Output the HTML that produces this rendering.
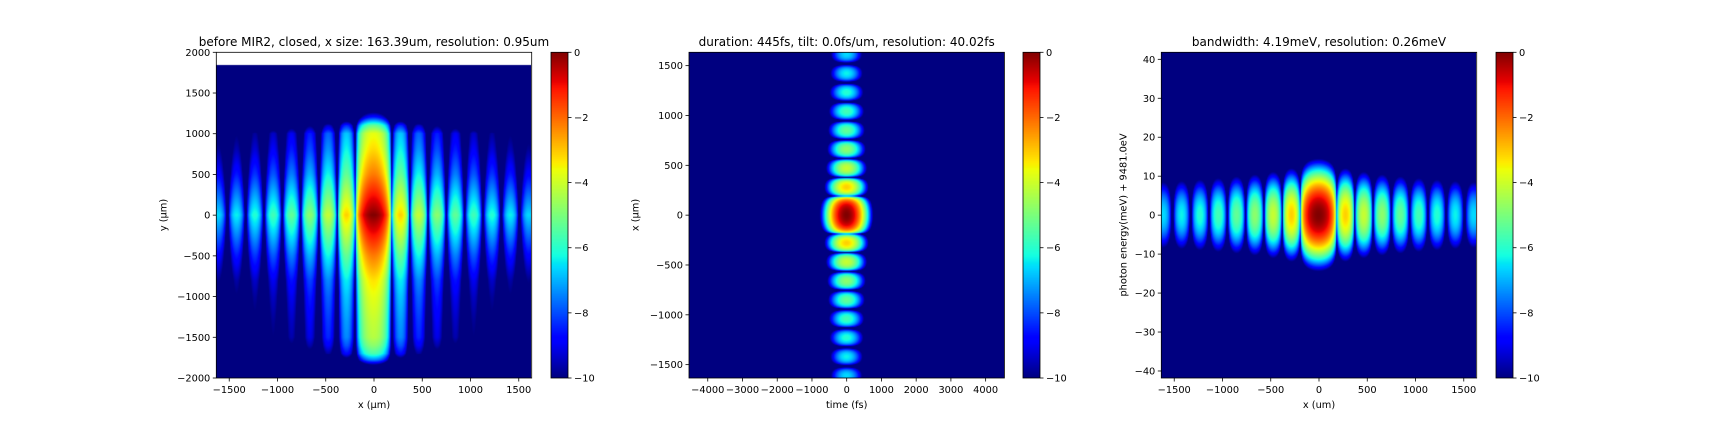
<!DOCTYPE html>
<html><head><meta charset="utf-8">
<style>
html,body{margin:0;padding:0;background:#fff;}
#root{position:relative;width:1728px;height:432px;overflow:hidden;background:#fff;}
canvas{position:absolute;display:block;}
svg{position:absolute;left:0;top:0;}
text{font-family:"DejaVu Sans","Liberation Sans",sans-serif;fill:#000;}
</style></head>
<body>
<div id="root">
<canvas id="c1"></canvas>
<canvas id="c2"></canvas>
<canvas id="c3"></canvas>
<canvas id="cb1"></canvas>
<canvas id="cb2"></canvas>
<canvas id="cb3"></canvas>
<svg id="ov" width="1728" height="432"></svg>
</div>
<script>
// ---- data (log intensity, natural log) ----
const lobeCenters = [0, 280, 470, 660, 850, 1040, 1230, 1420, 1610, -280, -470, -660, -850, -1040, -1230, -1420, -1610];
const lobePeaks   = [0, -3.1, -4.1, -4.8, -5.3, -5.7, -6.05, -6.35, -6.6, -3.1, -4.1, -4.8, -5.3, -5.7, -6.05, -6.35, -6.6];
const lobeWidths  = [380, 190, 190, 190, 190, 190, 190, 190, 190, 190, 190, 190, 190, 190, 190, 190, 190];
// panel 1 vertical profile (y um -> log value)
const p1ProfileY = [-2100, -1880, -1840, -1780, -1700, -1600, -1500, -1300, -1000, -800, -500, 0, 500, 800, 1000, 1100, 1200, 1260, 1300];
const p1ProfileV = [-30, -12, -10, -7.5, -5.6, -4.8, -4.3, -4.1, -3.7, -3.3, -2.2, 0, -2.2, -3.2, -3.7, -5.3, -8.5, -10, -14];
const p1ImageTop = 1844;
// panel 2 temporal gaussian curvature (per fs^2), panel 3 spectral curvature (per meV^2)
const p2TimeCurv = [1.69e-5];
const p3EnergyCurv = [0.048];
// axes ranges & ticks
const p1XRange = [-1634, 1634], p1YRange = [-2000, 2000];
const p2XRange = [-4540, 4540], p2YRange = [-1634, 1634];
const p3XRange = [-1634, 1634], p3YRange = [-41.8, 41.8];
const p1XTicks = [-1500, -1000, -500, 0, 500, 1000, 1500];
const p1YTicks = [-2000, -1500, -1000, -500, 0, 500, 1000, 1500, 2000];
const p2XTicks = [-4000, -3000, -2000, -1000, 0, 1000, 2000, 3000, 4000];
const p2YTicks = [-1500, -1000, -500, 0, 500, 1000, 1500];
const p3XTicks = [-1500, -1000, -500, 0, 500, 1000, 1500];
const p3YTicks = [-40, -30, -20, -10, 0, 10, 20, 30, 40];
const cbTicks = [0, -2, -4, -6, -8, -10];
const cbRange = [-10, 0];

// ---- helpers ----
function jet(v){
  let t=(v-cbRange[0])/(cbRange[1]-cbRange[0]); t=Math.max(0,Math.min(1,t));
  const seg=(k)=>{for(let i=0;i<k.length-1;i++){if(t<=k[i+1][0]){const a=k[i],b=k[i+1];return a[1]+(b[1]-a[1])*(t-a[0])/(b[0]-a[0]);}}return k[k.length-1][1];};
  const r=seg([[0,0],[0.35,0],[0.66,1],[0.89,1],[1,0.5]]);
  const g=seg([[0,0],[0.125,0],[0.375,1],[0.64,1],[0.91,0],[1,0]]);
  const b=seg([[0,0.5],[0.11,1],[0.34,1],[0.65,0],[1,0]]);
  return [r*255,g*255,b*255];
}
function interp(xs,vs,x){
  if(x<=xs[0])return vs[0]; if(x>=xs[xs.length-1])return vs[vs.length-1];
  for(let i=0;i<xs.length-1;i++){if(x<=xs[i+1]){return vs[i]+(vs[i+1]-vs[i])*(x-xs[i])/(xs[i+1]-xs[i]);}}
}
function lobeVal(x){
  let best=-1e9;
  for(let i=0;i<lobeCenters.length;i++){
    const d=x-lobeCenters[i], w=lobeWidths[i];
    if(Math.abs(d)<w/2){const c=Math.cos(Math.PI*d/w);const v=lobePeaks[i]+Math.log(c*c+1e-12);if(v>best)best=v;}
  }
  return best;
}
const AX={top:52.3,bottom:378,h:325.7,w:315.4};
const panels=[
 {left:216.3,cb:551,xr:p1XRange,yr:p1YRange,xt:p1XTicks,yt:p1YTicks,canvas:'c1',cbc:'cb1',
  title:'before MIR2, closed, x size: 163.39um, resolution: 0.95um',xl:'x (µm)',yl:'y (µm)',
  f:(x,y)=> y>p1ImageTop? null : lobeVal(x)+interp(p1ProfileY,p1ProfileV,y)},
 {left:689,cb:1023,xr:p2XRange,yr:p2YRange,xt:p2XTicks,yt:p2YTicks,canvas:'c2',cbc:'cb2',
  title:'duration: 445fs, tilt: 0.0fs/um, resolution: 40.02fs',xl:'time (fs)',yl:'x (µm)',
  f:(t,x)=> lobeVal(x)-p2TimeCurv[0]*t*t},
 {left:1161.3,cb:1496,xr:p3XRange,yr:p3YRange,xt:p3XTicks,yt:p3YTicks,canvas:'c3',cbc:'cb3',
  title:'bandwidth: 4.19meV, resolution: 0.26meV',xl:'x (um)',yl:'photon energy(meV) + 9481.0eV',
  f:(x,e)=> lobeVal(x)-p3EnergyCurv[0]*e*e}
];
const NS='http://www.w3.org/2000/svg';
const ov=document.getElementById('ov');
function mk(tag,attrs,parent){const e=document.createElementNS(NS,tag);for(const k in attrs)e.setAttribute(k,attrs[k]);(parent||ov).appendChild(e);return e;}

panels.forEach((p,pi)=>{
  const L=Math.round(p.left),T=Math.round(AX.top),W=Math.round(AX.w),H=Math.round(AX.h);
  const cv=document.getElementById(p.canvas);
  cv.width=W;cv.height=H;cv.style.left=L+'px';cv.style.top=T+'px';
  const ctx=cv.getContext('2d');const img=ctx.createImageData(W,H);
  const sx=v=>p.left+(v-p.xr[0])/(p.xr[1]-p.xr[0])*AX.w;
  const sy=v=>AX.top+(p.yr[1]-v)/(p.yr[1]-p.yr[0])*AX.h;
  for(let j=0;j<H;j++){
    const yv=p.yr[1]-(j+0.5)/H*(p.yr[1]-p.yr[0]);
    for(let i=0;i<W;i++){
      const xv=p.xr[0]+(i+0.5)/W*(p.xr[1]-p.xr[0]);
      const v=p.f(xv,yv);const k=(j*W+i)*4;
      if(v===null){img.data[k]=255;img.data[k+1]=255;img.data[k+2]=255;img.data[k+3]=255;continue;}
      const c=jet(v);img.data[k]=c[0];img.data[k+1]=c[1];img.data[k+2]=c[2];img.data[k+3]=255;
    }
  }
  ctx.putImageData(img,0,0);
  // colorbar
  const cb=document.getElementById(p.cbc);const CW=17;
  cb.width=CW;cb.height=H;cb.style.left=Math.round(p.cb)+'px';cb.style.top=T+'px';
  const cctx=cb.getContext('2d');
  for(let j=0;j<H;j++){const v=cbRange[1]-(j+0.5)/H*(cbRange[1]-cbRange[0]);const c=jet(v);cctx.fillStyle=`rgb(${c[0]|0},${c[1]|0},${c[2]|0})`;cctx.fillRect(0,j,CW,1);}
  const g=mk('g',{});
  
  
  const fr=mk('rect',{x:p.left,y:AX.top,width:AX.w,height:AX.h,fill:'none',stroke:'#000','stroke-width':0.8},g);
  
  
  const cf=mk('rect',{x:p.cb,y:AX.top,width:CW,height:AX.h,fill:'none',stroke:'#000','stroke-width':0.8},g);
  
  
  p.xt.forEach(v=>{const x=sx(v);
    mk('line',{x1:x,x2:x,y1:AX.bottom,y2:AX.bottom+3.5,stroke:'#000','stroke-width':0.8},g);
    const t=mk('text',{x:x,y:AX.bottom+15,'font-size':'9.8','text-anchor':'middle'},g);t.textContent=(v<0?'\u2212':'')+Math.abs(v);
    
    });
  p.yt.forEach(v=>{const y=sy(v);
    mk('line',{x1:p.left-3.5,x2:p.left,y1:y,y2:y,stroke:'#000','stroke-width':0.8},g);
    const t=mk('text',{x:p.left-6,y:y+3.5,'font-size':'9.8','text-anchor':'end'},g);t.textContent=(v<0?'\u2212':'')+Math.abs(v);
    
    });
  cbTicks.forEach(v=>{const y=AX.top+(cbRange[1]-v)/(cbRange[1]-cbRange[0])*AX.h;const x=p.cb+CW;
    mk('line',{x1:x,x2:x+3.5,y1:y,y2:y,stroke:'#000','stroke-width':0.8},g);
    const t=mk('text',{x:x+6,y:y+3.5,'font-size':'9.8'},g);t.textContent=(v<0?'\u2212':'')+Math.abs(v);
    
    });
  const ti=mk('text',{x:p.left+AX.w/2,y:46,'font-size':'12','text-anchor':'middle'},g);ti.textContent=p.title;
  
  
  const xl=mk('text',{x:p.left+AX.w/2,y:408,'font-size':'9.8','text-anchor':'middle'},g);xl.textContent=p.xl;
  
  
  const ylx=[163,635,1123][pi];
  const yl=mk('text',{x:ylx,y:215,'font-size':'9.8','text-anchor':'middle',transform:`rotate(-90 ${ylx} 215)`,dy:'3.5'},g);yl.textContent=p.yl;
  
  
});
</script>
</body></html>
